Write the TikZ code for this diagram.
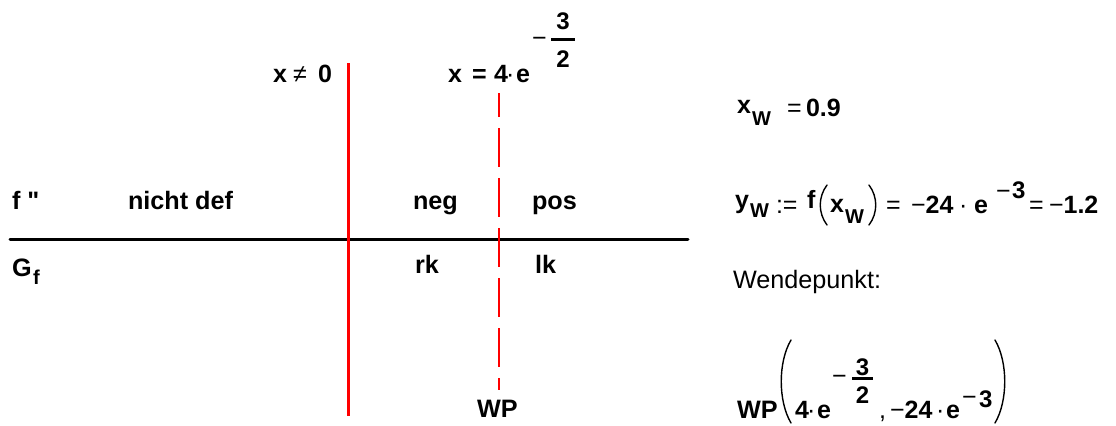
\documentclass[tikz,border=0pt]{standalone}
\usepackage{fontspec}
\setmainfont{Liberation Sans}[Ligatures=TeXOff]
\begin{document}
\begin{tikzpicture}[x=0.5pt,y=-0.5pt,
  txt/.style={anchor=base west, inner sep=0pt, outer sep=0pt},
  lbl/.style={txt, font=\bfseries\fontsize{12.6}{14}\selectfont},
  frm/.style={txt, font=\bfseries\fontsize{12.5}{14}\selectfont},
  sub/.style={txt, font=\bfseries\fontsize{10}{12}\selectfont},
  rel/.style={txt, font=\fontsize{12.5}{14}\selectfont},
  frac/.style={txt, font=\bfseries\fontsize{12}{13}\selectfont},
  plain/.style={txt, font=\fontsize{12.6}{14}\selectfont},
  fracbar/.style={line width=1.4pt, black},
  axisline/.style={line width=1.5pt, line cap=round, black},
  pole/.style={line width=1.5pt, red},
  wpline/.style={line width=1pt, red, dash pattern=on 19.5pt off 5.5pt, dash phase=7.5pt},
  paren/.style={line width=0.7pt, black, line cap=round}]
\useasboundingbox (0,0) rectangle (1116,425);

% sign chart: axis, pole at x=0, inflection line
\coordinate (axL) at (10,239);
\coordinate (axR) at (688,239);
\coordinate (poleT) at (348,63);
\coordinate (poleB) at (348,416);
\coordinate (wpT) at (499,93);
\coordinate (wpB) at (499,390);
\draw[axisline] (axL) -- (axR);
\draw[pole] (poleT) -- (poleB);
\draw[wpline] (wpT) -- (wpB);

% row labels
\node[lbl] (fpp) at (12,209) {f "};
\node[lbl] (nd) at (128,209) {nicht def};
\node[lbl] (neg) at (413,209) {neg};
\node[lbl] (pos) at (532,209) {pos};
\node[lbl] (G) at (12,276) {G};
\node[sub] (Gf) at (33,284) {f};
\node[lbl] (rk) at (415,273) {rk};
\node[lbl] (lk) at (535,273) {lk};
\node[lbl] (wp) at (477,417) {WP};

% x != 0
\node[frm] (xa) at (273,82) {x};
\node[rel] (neq) at (293,82) {≠};
\node[frm] (zero) at (318,82) {0};

% x = 4 e^(-3/2)
\node[frm] (xb) at (448,82) {x};
\node[frm] (eqb) at (472,82) {=};
\node[frm] (fourb) at (494,82) {4};
\node[rel] (dotb) at (506,82) {·};
\node[frm] (eb) at (516,82) {e};
\node[rel] (minb) at (532,46) {−};
\node[frac, anchor=base] (numb) at (563,29) {3};
\node[frac, anchor=base] (denb) at (563,67) {2};
\coordinate (barbL) at (551,39.5);
\coordinate (barbR) at (575,39.5);
\draw[fracbar] (barbL) -- (barbR);

% x_W = 0.9
\node[frm] (xw) at (737,113) {x};
\node[sub] (xwW) at (752,125) {W};
\node[rel] (eqx) at (787,116) {=};
\node[frm] (valx) at (806,116) {0.9};

% y_W := f(x_W) = -24 e^-3 = -1.2
\node[frm] (yw) at (735,208) {y};
\node[sub] (ywW) at (750,217) {W};
\node[rel] (def) at (776,213) {:=};
\node[frm] (fy) at (807,208) {f};
\coordinate (lpyT) at (827,185);
\coordinate (lpyB) at (827,225);
\draw[paren] (lpyT) .. controls (818,197) and (818,213) .. (lpyB);
\node[frm] (xw2) at (830,212) {x};
\node[sub] (xw2W) at (845,223) {W};
\coordinate (rpyT) at (869,185);
\coordinate (rpyB) at (869,225);
\draw[paren] (rpyT) .. controls (878,197) and (878,213) .. (rpyB);
\node[rel] (eqy1) at (886,213) {=};
\node[frm] (m24) at (911,213) {{\mdseries −}24};
\node[rel] (doty) at (959,213) {·};
\node[frm] (ey) at (974,213) {e};
\node[rel] (minsup) at (996,199) {−};
\node[frac] (sup3) at (1012,198) {3};
\node[rel] (eqy2) at (1029,213) {=};
\node[frm] (res) at (1049,213) {{\mdseries −}1.2};

\node[plain] (wende) at (733,288) {Wendepunkt:};

% WP(4 e^(-3/2), -24 e^-3)
\node[lbl] (wp2) at (737,418) {WP};
\coordinate (lpT) at (791,340);
\coordinate (lpB) at (791,423);
\draw[paren] (lpT) .. controls (778,362) and (778,401) .. (lpB);
\node[frm] (four2) at (795,418) {4};
\node[rel] (dot2) at (807,418) {·};
\node[frm] (e2) at (817,418) {e};
\node[rel] (min2) at (832,384) {−};
\node[frac, anchor=base] (num2) at (862.5,375) {3};
\node[frac, anchor=base] (den2) at (862.5,403) {2};
\coordinate (bar2L) at (852,378.5);
\coordinate (bar2R) at (873,378.5);
\draw[fracbar] (bar2L) -- (bar2R);
\node[rel] (comma) at (879,418) {,};
\node[frm] (m24b) at (890,418) {{\mdseries −}24};
\node[rel] (dot3) at (936,418) {·};
\node[frm] (e3) at (946,418) {e};
\node[rel] (min3) at (962,405) {−};
\node[frac] (sup3b) at (979,407) {3};
\coordinate (rpT) at (995,340);
\coordinate (rpB) at (995,423);
\draw[paren] (rpT) .. controls (1008,362) and (1008,401) .. (rpB);
\end{tikzpicture}
\end{document}
